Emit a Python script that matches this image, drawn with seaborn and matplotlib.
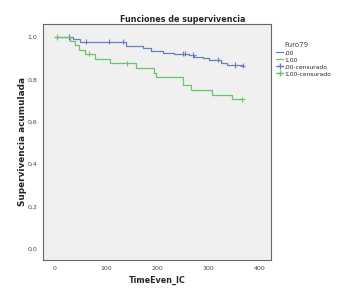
import numpy as np
import pandas as pd
import matplotlib
matplotlib.use("Agg")
import matplotlib.pyplot as plt
import seaborn as sns
from matplotlib.lines import Line2D
from matplotlib.ticker import FuncFormatter

# ---- data ----
blue_times = [0, 35, 48, 139, 171, 188, 210, 233, 262, 272, 288, 301, 324, 336, 366]
blue_surv = [1.0, 0.99, 0.978, 0.958, 0.948, 0.932, 0.926, 0.92, 0.915, 0.907, 0.90, 0.892, 0.879, 0.868, 0.865]
blue_censor = [28, 60, 106, 132, 249, 253, 270, 318, 352, 366]

green_times = [0, 30, 39, 47, 58, 78, 107, 159, 194, 197, 250, 265, 307, 345, 366]
green_surv = [1.0, 0.983, 0.962, 0.939, 0.92, 0.896, 0.876, 0.852, 0.832, 0.81, 0.774, 0.75, 0.726, 0.706, 0.706]
green_censor = [3, 67, 140, 365]

groups = [",00", "1,00"]
colors = {",00": "#6f7dbd", "1,00": "#6cc46c"}

rows = []
for g, ts, ss in [(groups[0], blue_times, blue_surv), (groups[1], green_times, green_surv)]:
    for t, s in zip(ts, ss):
        rows.append({"time": t, "surv": s, "group": g})
df = pd.DataFrame(rows)

def surv_at(times, survs, t):
    idx = np.searchsorted(times, t, side="right") - 1
    return survs[max(idx, 0)]

crows = []
for g, ts, ss, cs in [(groups[0], blue_times, blue_surv, blue_censor),
                      (groups[1], green_times, green_surv, green_censor)]:
    for c in cs:
        crows.append({"time": c, "surv": surv_at(ts, ss, c), "group": g})
cdf = pd.DataFrame(crows)

sns.set_style("white")
plt.rcParams["font.family"] = ["DejaVu Sans"]

fig = plt.figure(figsize=(3.46, 2.96), dpi=100)
ax = fig.add_axes([43/346, 1-260/296, (271-43)/346, (260-24)/296])
ax.set_facecolor("#f0f0f0")

sns.lineplot(data=df, x="time", y="surv", hue="group", palette=colors,
             drawstyle="steps-post", estimator=None, sort=False, ax=ax,
             linewidth=0.9, legend=False)
sns.scatterplot(data=cdf, x="time", y="surv", hue="group", palette=colors,
                marker="+", s=14, linewidth=0.8, ax=ax, legend=False)

ax.set_xlim(-23.4, 421.5)
ax.set_ylim(-0.052, 1.061)
ax.set_xticks([0, 100, 200, 300, 400])
ax.set_yticks([0.0, 0.2, 0.4, 0.6, 0.8, 1.0])
ax.yaxis.set_major_formatter(FuncFormatter(lambda v, p: f"{v:.1f}".replace(".", ",")))
ax.tick_params(axis="both", labelsize=4.5, length=2.5, width=0.6, direction="out",
               colors="#555555", labelcolor="#444444", pad=1.5)
for sp in ax.spines.values():
    sp.set_color("#666666")
    sp.set_linewidth(0.8)

ax.set_xlabel("TimeEven_IC", fontsize=5.8, fontweight="bold", labelpad=4)
ax.set_ylabel("Supervivencia acumulada", fontsize=6.4, fontweight="bold", labelpad=0.5)
fig.text(183/346, 1-19/296, "Funciones de supervivencia", fontsize=5.8, fontweight="bold",
         ha="center", va="center")

handles = [
    Line2D([], [], color=colors[",00"], lw=0.9),
    Line2D([], [], color=colors["1,00"], lw=0.9),
    Line2D([], [], color=colors[",00"], lw=0.9, marker="+", markersize=4),
    Line2D([], [], color=colors["1,00"], lw=0.9, marker="+", markersize=4),
]
labels = [",00", "1,00", ",00-censurado", "1,00-censurado"]
leg = fig.legend(handles, labels, title="Furo79", loc="upper left",
                 bbox_to_anchor=(274/346, 1-40/296), frameon=False,
                 fontsize=4.3, title_fontsize=5.0, handlelength=1.1,
                 handletextpad=0.3, labelspacing=0.3, borderaxespad=0)
leg.get_title().set_color("#444444")
leg._legend_box.align = "left"
leg.get_title().set_position((8, 0))

fig.savefig("out.png", dpi=100)
